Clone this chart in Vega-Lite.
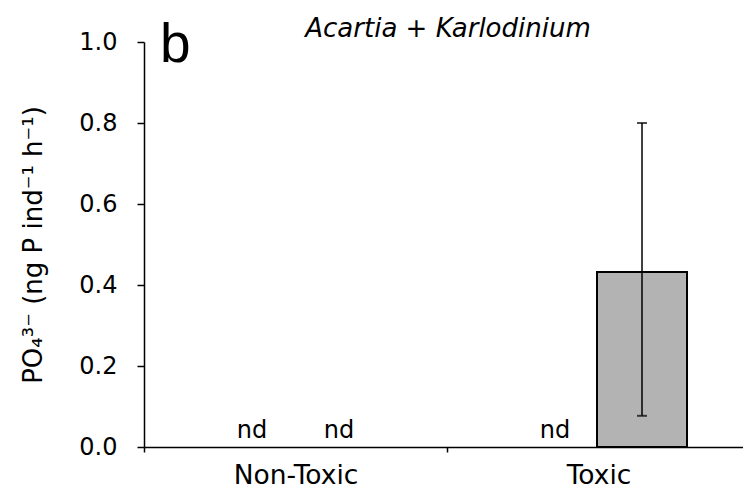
{
  "$schema": "https://vega.github.io/schema/vega-lite/v6.json",
  "width": 599,
  "height": 405,
  "autosize": "none",
  "padding": {"left": 144, "top": 42, "right": 0, "bottom": 49},
  "background": "white",
  "config": {
    "view": {"stroke": null},
    "font": "DejaVu Sans",
    "axis": {"labelFont": "DejaVu Sans", "titleFont": "DejaVu Sans", "labelColor": "black", "titleColor": "black", "domainColor": "black", "tickColor": "black"}
  },
  "datasets": {
    "bars": [
      {"group": "Toxic", "treatment": "T2", "value": 0.432, "lo": 0.077, "hi": 0.80}
    ],
    "nd": [
      {"group": "Non-Toxic", "treatment": "T1", "label": "nd"},
      {"group": "Non-Toxic", "treatment": "T2", "label": "nd"},
      {"group": "Toxic", "treatment": "T1", "label": "nd"}
    ],
    "panel": [{"tag": "b", "title": "Acartia + Karlodinium"}]
  },
  "layer": [
    {
      "data": {"name": "bars"},
      "mark": {"type": "bar", "color": "#b3b3b3", "stroke": "black", "strokeWidth": 2, "width": 90},
      "encoding": {
        "x": {"field": "group", "type": "nominal", "scale": {"domain": ["Non-Toxic", "Toxic"], "paddingInner": 0, "paddingOuter": 0, "range": [0, 606]},
              "axis": {"title": null, "labelAngle": 0, "labelFontSize": 26.5, "ticks": true, "tickBand": "extent", "tickSize": 5, "tickWidth": 1.5, "labelPadding": 10, "domainWidth": 1.5}},
        "xOffset": {"field": "treatment", "type": "nominal", "scale": {"domain": ["T1", "T2"], "paddingInner": 0, "paddingOuter": 0.741}},
        "y": {"field": "value", "type": "quantitative", "scale": {"domain": [0, 1], "nice": false},
              "axis": {"title": "PO₄³⁻  (ng P ind⁻¹ h⁻¹)", "values": [0, 0.2, 0.4, 0.6, 0.8, 1.0], "format": ".1f", "labelFontSize": 24, "titleFontSize": 26, "titleFontWeight": "normal", "tickSize": 7, "tickWidth": 1.5, "labelPadding": 20, "titlePadding": 32, "grid": false, "domainWidth": 1.5}}
      }
    },
    {
      "data": {"name": "bars"},
      "mark": {"type": "rule", "color": "black", "strokeWidth": 1.5},
      "encoding": {
        "x": {"field": "group", "type": "nominal"},
        "xOffset": {"field": "treatment", "type": "nominal"},
        "y": {"field": "lo", "type": "quantitative"},
        "y2": {"field": "hi"}
      }
    },
    {
      "data": {"name": "bars"},
      "mark": {"type": "tick", "color": "black", "thickness": 2, "size": 10},
      "encoding": {
        "x": {"field": "group", "type": "nominal"},
        "xOffset": {"field": "treatment", "type": "nominal"},
        "y": {"field": "hi", "type": "quantitative"}
      }
    },
    {
      "data": {"name": "bars"},
      "mark": {"type": "tick", "color": "black", "thickness": 2, "size": 10},
      "encoding": {
        "x": {"field": "group", "type": "nominal"},
        "xOffset": {"field": "treatment", "type": "nominal"},
        "y": {"field": "lo", "type": "quantitative"}
      }
    },
    {
      "data": {"name": "nd"},
      "mark": {"type": "text", "fontSize": 24, "baseline": "alphabetic", "dy": -9, "color": "black"},
      "encoding": {
        "x": {"field": "group", "type": "nominal"},
        "xOffset": {"field": "treatment", "type": "nominal"},
        "y": {"datum": 0, "type": "quantitative"},
        "text": {"field": "label"}
      }
    },
    {
      "data": {"name": "panel"},
      "mark": {"type": "text", "font": "Liberation Sans", "fontSize": 55, "fontWeight": "normal", "baseline": "alphabetic", "align": "left", "dx": 16, "dy": 20, "color": "black"},
      "encoding": {
        "x": {"datum": "Non-Toxic", "type": "nominal", "bandPosition": 0},
        "y": {"datum": 1.0, "type": "quantitative"},
        "text": {"field": "tag"}
      }
    },
    {
      "data": {"name": "panel"},
      "mark": {"type": "text", "fontSize": 26, "fontStyle": "italic", "baseline": "alphabetic", "align": "center", "dx": 1, "dy": -5, "color": "black"},
      "encoding": {
        "x": {"datum": "Toxic", "type": "nominal", "bandPosition": 0},
        "y": {"datum": 1.0, "type": "quantitative"},
        "text": {"field": "title"}
      }
    }
  ]
}
